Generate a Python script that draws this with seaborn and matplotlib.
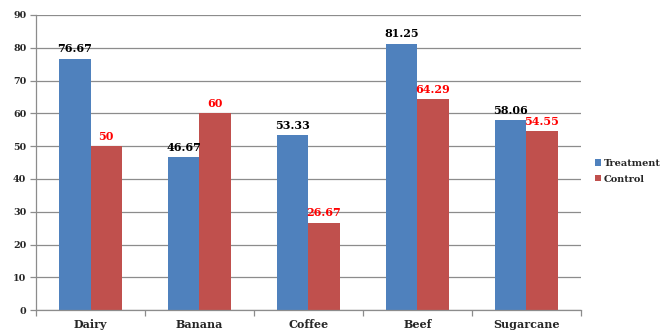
import matplotlib
matplotlib.use("Agg")
import matplotlib.pyplot as plt
import seaborn as sns
import pandas as pd

categories = ["Dairy", "Banana", "Coffee", "Beef", "Sugarcane"]
treatment = [76.67, 46.67, 53.33, 81.25, 58.06]
control = [50, 60, 26.67, 64.29, 54.55]
treatment_labels = ["76.67", "46.67", "53.33", "81.25", "58.06"]
control_labels = ["50", "60", "26.67", "64.29", "54.55"]
y_ticks = [0, 10, 20, 30, 40, 50, 60, 70, 80, 90]

df = pd.DataFrame({
    "Category": categories * 2,
    "Value": treatment + control,
    "Group": ["Treatment"] * len(categories) + ["Control"] * len(categories),
})

sns.set_style("white")
plt.rcParams["font.family"] = ["DejaVu Serif", "Liberation Serif"]
plt.rcParams["font.weight"] = "bold"

fig = plt.figure(figsize=(6.67, 3.31), dpi=100)
ax = fig.add_axes([0.054, 0.063, 0.817, 0.892])

palette = {"Treatment": "#4F81BD", "Control": "#C0504D"}
sns.barplot(data=df, x="Category", y="Value", hue="Group", palette=palette,
            width=0.57, gap=0, saturation=1, ax=ax, legend=True,
            edgecolor="none", linewidth=0)

ax.set_xlim(-0.5, len(categories) - 0.5)
ax.set_ylim(0, 90)
ax.set_yticks(y_ticks)
ax.grid(axis="y", color="#8c8c8c", linewidth=0.9)
ax.set_axisbelow(True)
ax.set_xlabel("")
ax.set_ylabel("")

for side in ["top", "right"]:
    ax.spines[side].set_visible(False)
for side in ["left", "bottom"]:
    ax.spines[side].set_color("#8c8c8c")
    ax.spines[side].set_linewidth(0.9)

ax.tick_params(axis="y", which="major", length=4, width=0.9, color="#8c8c8c",
               labelsize=6.8, pad=3, left=True)
ax.tick_params(axis="x", which="major", length=0, labelsize=8, pad=6.5)
ax.set_xticks([i - 0.5 for i in range(len(categories) + 1)], minor=True)
ax.tick_params(axis="x", which="minor", length=4, width=0.9, color="#8c8c8c",
               bottom=True)
for lbl in ax.get_xticklabels() + ax.get_yticklabels():
    lbl.set_fontweight("bold")

containers = ax.containers
ax.bar_label(containers[0], labels=treatment_labels, padding=3,
             fontsize=8, fontweight="bold", color="black")
ax.bar_label(containers[1], labels=control_labels, padding=3,
             fontsize=8, fontweight="bold", color="#FF0000")

leg = ax.legend(loc="center left", bbox_to_anchor=(1.01, 0.47), frameon=False,
                fontsize=7, handlelength=0.6, handleheight=0.6,
                handletextpad=0.3, labelspacing=0.7)
for t in leg.get_texts():
    t.set_fontweight("bold")

fig.savefig("out.png", dpi=100)
